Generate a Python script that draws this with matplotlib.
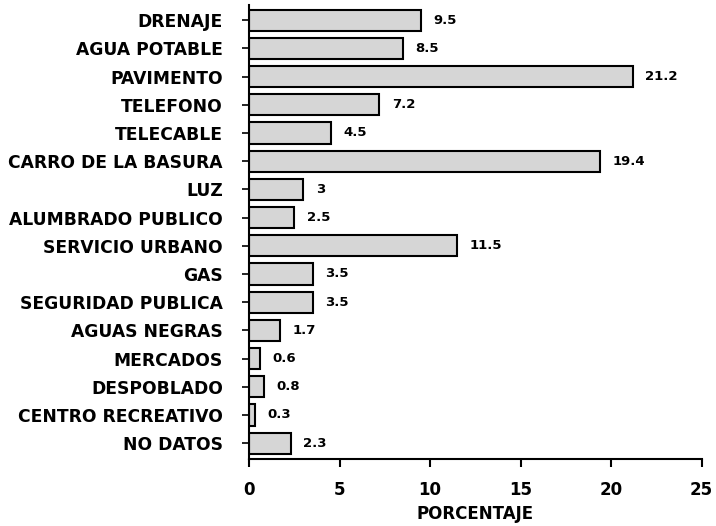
import matplotlib.pyplot as plt
import numpy as np

plt.rcParams['font.family'] = ['DejaVu Sans']
plt.rcParams['font.weight'] = 'bold'

servicios = ["DRENAJE", "AGUA POTABLE", "PAVIMENTO", "TELEFONO", "TELECABLE",
             "CARRO DE LA BASURA", "LUZ", "ALUMBRADO PUBLICO", "SERVICIO URBANO",
             "GAS", "SEGURIDAD PUBLICA", "AGUAS NEGRAS", "MERCADOS",
             "DESPOBLADO", "CENTRO RECREATIVO", "NO DATOS"]
porcentaje = [9.5, 8.5, 21.2, 7.2, 4.5, 19.4, 3, 2.5, 11.5, 3.5, 3.5, 1.7,
              0.6, 0.8, 0.3, 2.3]
etiquetas = ["9.5", "8.5", "21.2", "7.2", "4.5", "19.4", "3", "2.5", "11.5",
             "3.5", "3.5", "1.7", "0.6", "0.8", "0.3", "2.3"]

fig = plt.figure(figsize=(7.16, 5.26), dpi=100)
ax = fig.add_axes([0.348, 0.127, 0.632, 0.863])

pos = np.arange(len(servicios))
barras = ax.barh(pos, porcentaje, height=0.75, color='#d6d6d6',
                 edgecolor='black', linewidth=1.5)
ax.bar_label(barras, labels=etiquetas, padding=9, fontsize=9.5,
             fontweight='bold')

ax.set_ylim(15.57, -0.53)
ax.set_xlim(0, 25)
ax.set_yticks(pos)
ax.set_yticklabels(servicios, fontsize=12.3, fontweight='bold')
ax.set_xticks([0, 5, 10, 15, 20, 25])
ax.tick_params(axis='x', labelsize=12, width=1.5, length=6, pad=10)
ax.tick_params(axis='y', width=1.2, length=5, pad=14)
ax.set_xlabel('PORCENTAJE', fontsize=12, fontweight='bold', labelpad=4)

ax.spines['top'].set_visible(False)
ax.spines['right'].set_visible(False)
ax.spines['left'].set_linewidth(1.5)
ax.spines['bottom'].set_linewidth(1.5)

fig.savefig('out.png', dpi=100)
